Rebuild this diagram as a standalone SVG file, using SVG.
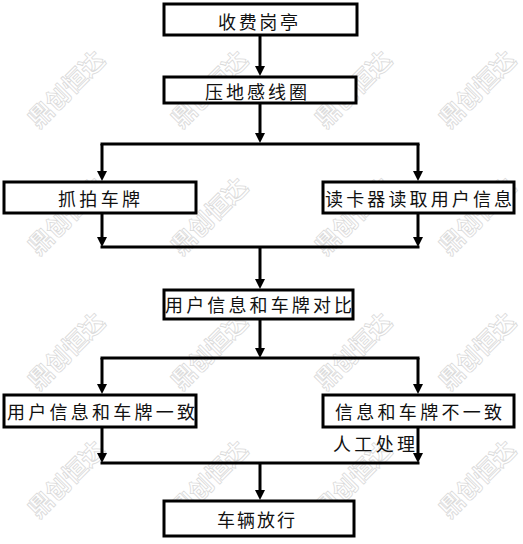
<svg xmlns="http://www.w3.org/2000/svg" width="523" height="544" viewBox="0 0 523 544">
<style>
.box{fill:#fff;stroke:#000;stroke-width:3}
.t{font-family:"Noto Sans CJK SC","Noto Sans CJK JP",sans-serif;font-size:18px;fill:#111;dominant-baseline:central}
.wm{font-family:"Noto Sans CJK SC",sans-serif;font-size:24px;font-weight:bold;fill:#fff;stroke:#dadada;stroke-width:0.8;text-anchor:middle;dominant-baseline:central}
.c{fill:none;stroke:#000;stroke-width:3}
</style>
<defs>
<marker id="ah" viewBox="0 0 10 10" refX="4" refY="5" markerWidth="10" markerHeight="10" markerUnits="userSpaceOnUse" orient="auto">
<path d="M0,0 L10,5 L0,10 z" fill="#000"/>
</marker>
</defs>
<rect width="523" height="544" fill="#fff"/>
<g id="watermark">
<text class="wm" transform="translate(65,88) rotate(-45)">鼎创恒达</text>
<text class="wm" transform="translate(208,88) rotate(-45)">鼎创恒达</text>
<text class="wm" transform="translate(352,88) rotate(-45)">鼎创恒达</text>
<text class="wm" transform="translate(476,88) rotate(-45)">鼎创恒达</text>
<text class="wm" transform="translate(65,215) rotate(-45)">鼎创恒达</text>
<text class="wm" transform="translate(208,215) rotate(-45)">鼎创恒达</text>
<text class="wm" transform="translate(352,215) rotate(-45)">鼎创恒达</text>
<text class="wm" transform="translate(476,215) rotate(-45)">鼎创恒达</text>
<text class="wm" transform="translate(65,350) rotate(-45)">鼎创恒达</text>
<text class="wm" transform="translate(208,350) rotate(-45)">鼎创恒达</text>
<text class="wm" transform="translate(352,350) rotate(-45)">鼎创恒达</text>
<text class="wm" transform="translate(476,350) rotate(-45)">鼎创恒达</text>
<text class="wm" transform="translate(65,478) rotate(-45)">鼎创恒达</text>
<text class="wm" transform="translate(208,478) rotate(-45)">鼎创恒达</text>
<text class="wm" transform="translate(352,478) rotate(-45)">鼎创恒达</text>
<text class="wm" transform="translate(476,478) rotate(-45)">鼎创恒达</text>
</g>
<g id="connectors">
<path class="c" d="M260,35 V70" marker-end="url(#ah)"/>
<path class="c" d="M260,103 V137" marker-end="url(#ah)"/>
<path class="c" d="M100.5,144 H419.5"/>
<path class="c" d="M102,144 V175" marker-end="url(#ah)"/>
<path class="c" d="M418,144 V175" marker-end="url(#ah)"/>
<path class="c" d="M102,213 V241" marker-end="url(#ah)"/>
<path class="c" d="M418,213 V241" marker-end="url(#ah)"/>
<path class="c" d="M100.5,247 H419.5"/>
<path class="c" d="M260,247 V283" marker-end="url(#ah)"/>
<path class="c" d="M260,319 V352" marker-end="url(#ah)"/>
<path class="c" d="M100.5,358 H419.5"/>
<path class="c" d="M102,358 V388" marker-end="url(#ah)"/>
<path class="c" d="M418,358 V388" marker-end="url(#ah)"/>
<path class="c" d="M102,427 V457" marker-end="url(#ah)"/>
<path class="c" d="M418,427 V457" marker-end="url(#ah)"/>
<path class="c" d="M100.5,463 H419.5"/>
<path class="c" d="M260,463 V494" marker-end="url(#ah)"/>
</g>
<g id="n1"><rect class="box" x="164" y="4" width="193" height="31"/><text class="t" x="218" y="21" textLength="80" lengthAdjust="spacing">收费岗亭</text></g>
<g id="n2"><rect class="box" x="164" y="77" width="192" height="26"/><text class="t" x="205" y="91" textLength="102" lengthAdjust="spacing">压地感线圈</text></g>
<g id="n3"><rect class="box" x="4" y="182" width="192" height="31"/><text class="t" x="58" y="198" textLength="82" lengthAdjust="spacing">抓拍车牌</text></g>
<g id="n4"><rect class="box" x="323" y="182" width="191" height="31"/><text class="t" x="325" y="198" textLength="187" lengthAdjust="spacing">读卡器读取用户信息</text></g>
<g id="n5"><rect class="box" x="164" y="290" width="189" height="29"/><text class="t" x="165" y="304" textLength="187" lengthAdjust="spacing">用户信息和车牌对比</text></g>
<g id="n6"><rect class="box" x="4" y="395" width="192" height="32"/><text class="t" x="7" y="411" textLength="188" lengthAdjust="spacing">用户信息和车牌一致</text></g>
<g id="n7"><rect class="box" x="323" y="395" width="191" height="32"/><text class="t" x="335" y="411" textLength="167" lengthAdjust="spacing">信息和车牌不一致</text></g>
<g id="l1"><text class="t" x="333" y="443" textLength="82" lengthAdjust="spacing">人工处理</text></g>
<g id="n8"><rect class="box" x="164" y="501" width="190" height="35"/><text class="t" x="217" y="519" textLength="78" lengthAdjust="spacing">车辆放行</text></g>
</svg>
